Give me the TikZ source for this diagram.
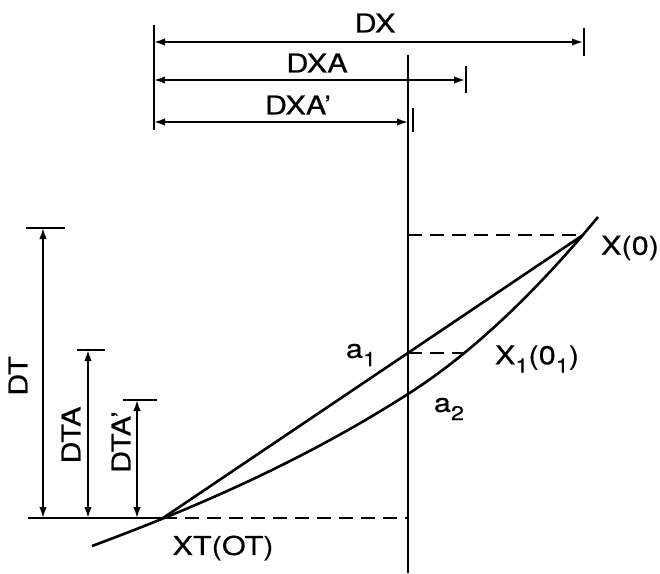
\documentclass[tikz,border=0pt]{standalone}
\usepackage{fontspec}
\setmainfont{TeX Gyre Heros}[FakeStretch=1.18,FakeBold=0.4]
\usetikzlibrary{arrows.meta}
\newcommand\lowsub[1]{\raisebox{-0.32em}{\fontsize{20}{20}\selectfont #1}}
\begin{document}
\begin{tikzpicture}[x=1pt,y=-1pt,
  thinln/.style={line width=1.7pt},
  curveln/.style={line width=2.6pt},
  dashln/.style={line width=1.4pt, dash pattern=on 14pt off 8pt},
  dimarrow/.style={line width=1.7pt, {Latex[length=11pt,width=7.5pt]}-{Latex[length=11pt,width=7.5pt]}},
  lbl/.style={font=\fontsize{26}{30}\selectfont, inner sep=0pt}]
\useasboundingbox (0,0) rectangle (660,573);
% key points
\coordinate (Cs) at (92,546);
\coordinate (XT) at (163,518);
\coordinate (X0) at (583,235);
\coordinate (Ce) at (598,217);
\coordinate (A1) at (408,353);
\coordinate (A2) at (408,394);
\coordinate (X1) at (464,353);
\coordinate (Vtop) at (408,55);
\coordinate (Vbot) at (408,573);
\coordinate (Hl) at (28,518);
\coordinate (Hr) at (408,518);
\coordinate (Dtop) at (408,235);
% main vertical line
\draw[thinln] (Vtop) -- (Vbot);
% dashed / base lines
\draw[thinln] (Hl) -- (XT);
\draw[dashln] (XT) -- (Hr);
\draw[dashln] (Dtop) -- (X0);
\draw[dashln] (A1) -- (X1);
% curves
\draw[curveln] (XT) -- (X0);
\draw[curveln] (Cs) .. controls (197,507) and (303,461) .. (A2)
  .. controls (471,354) and (535,293) .. (Ce);
% top dimension lines
\coordinate (L1) at (154,25);
\coordinate (L2) at (154,130);
\draw[thinln] (L1) -- (L2);
\coordinate (DXl) at (154,42);
\coordinate (DXr) at (583,42);
\coordinate (DXt1) at (584,28);
\coordinate (DXt2) at (584,56);
\draw[thinln] (DXt1) -- (DXt2);
\draw[dimarrow] (DXl) -- (DXr);
\coordinate (DXAl) at (154,80);
\coordinate (DXAr) at (465,80);
\coordinate (DXAt1) at (466,66);
\coordinate (DXAt2) at (466,93);
\draw[thinln] (DXAt1) -- (DXAt2);
\draw[dimarrow] (DXAl) -- (DXAr);
\coordinate (DXBl) at (154,122);
\coordinate (DXBr) at (408,122);
\coordinate (DXBt1) at (413,108);
\coordinate (DXBt2) at (413,132);
\draw[thinln] (DXBt1) -- (DXBt2);
\draw[dimarrow] (DXBl) -- (DXBr);
% left dimension lines
\coordinate (DTt1) at (26,228);
\coordinate (DTt2) at (65,228);
\draw[thinln] (DTt1) -- (DTt2);
\coordinate (DTa) at (43,228);
\coordinate (DTb) at (43,518);
\draw[dimarrow] (DTa) -- (DTb);
\coordinate (DTAt1) at (77,350);
\coordinate (DTAt2) at (105,350);
\draw[thinln] (DTAt1) -- (DTAt2);
\coordinate (DTAa) at (88,350);
\coordinate (DTAb) at (88,518);
\draw[dimarrow] (DTAa) -- (DTAb);
\coordinate (DTBt1) at (123,400);
\coordinate (DTBt2) at (157,400);
\draw[thinln] (DTBt1) -- (DTBt2);
\coordinate (DTBa) at (137,400);
\coordinate (DTBb) at (137,518);
\draw[dimarrow] (DTBa) -- (DTBb);
% labels
\node[lbl] (lDX) at (375,23) {DX};
\node[lbl] (lDXA) at (317,63) {DXA};
\node[lbl] (lDXB) at (298,105) {DXA'};
\node[lbl, rotate=90] (lDT) at (18,376) {DT};
\node[lbl, rotate=90] (lDTA) at (71,435) {DTA};
\node[lbl, rotate=90] (lDTB) at (121,442) {DTA'};
\node[lbl] (lX0) at (630,248) {X(0)};
\node[lbl] (la1) at (361,355) {a\lowsub{1}};
\node[lbl] (la2) at (449,409) {a\lowsub{2}};
\node[lbl] (lX1) at (537,359) {X\lowsub{1}(0\lowsub{1})};
\node[lbl] (lXT) at (223,548) {XT(OT)};
\end{tikzpicture}
\end{document}
